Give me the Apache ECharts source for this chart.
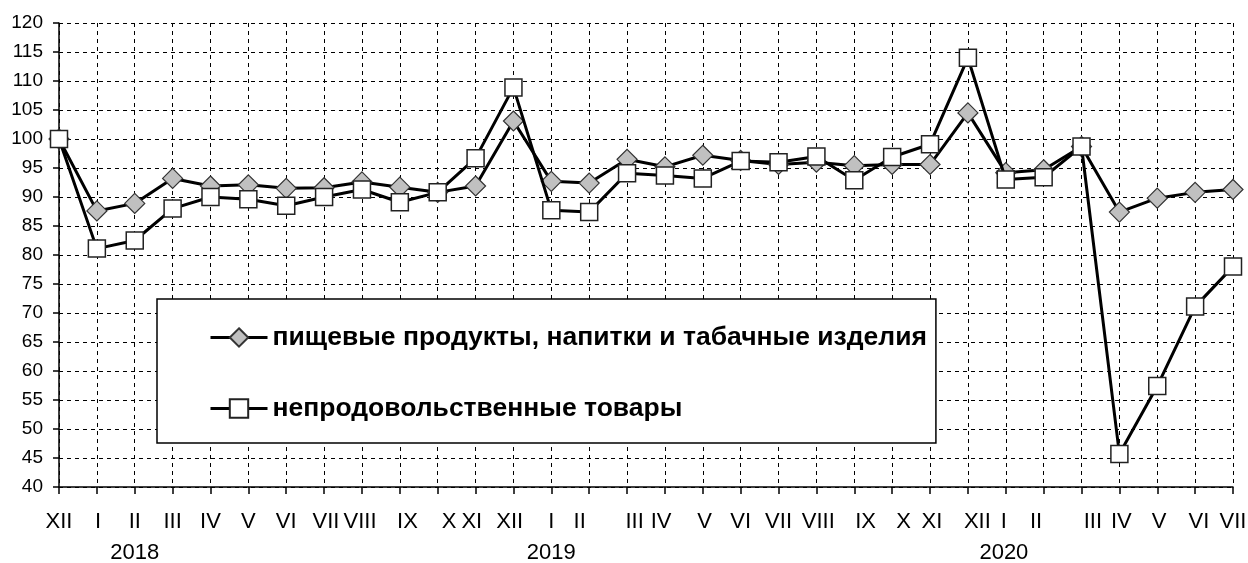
<!DOCTYPE html>
<html>
<head>
<meta charset="utf-8">
<title>Индексы</title>
<script src="https://cdn.jsdelivr.net/npm/echarts@6/dist/echarts.min.js"></script>
<style>
  html, body { margin: 0; padding: 0; background: #fff; }
  #chart { width: 1248px; height: 563px; }
</style>
</head>
<body>
<div id="chart"></div>
<script type="text/javascript">
    // месяцы: XII 2017 ... VII 2020
    var months = ['XII','I','II','III','IV','V','VI','VII','VIII','IX','X','XI',
                  'XII','I','II','III','IV','V','VI','VII','VIII','IX','X','XI',
                  'XII','I','II','III','IV','V','VI','VII'];
    // где стоят подписи месяцев (в долях шага, как на исходнике)
    var labelPos = [0, 1.03, 2, 3, 4, 5, 6, 7.05, 7.95, 9.2, 10.3, 10.9,
                    11.9, 13, 13.75, 15.2, 15.9, 17.05, 18, 19, 20.05, 21.3, 22.3, 23.05,
                    24.25, 24.95, 25.8, 27.3, 28.05, 29.05, 30.1, 31];
    var years = { 2: '2018', 13: '2019', 25: '2020' };

    var foodName = 'пищевые продукты, напитки и табачные изделия';
    var nonFoodName = 'непродовольственные товары';

    var food = [100, 87.6, 88.9, 93.2, 91.9, 92.1, 91.5, 91.6, 92.6, 91.7, 90.8, 91.9,
                103.1, 92.7, 92.4, 96.5, 95.2, 97.2, 96.3, 95.6, 96.0, 95.4, 95.6, 95.6,
                104.5, 94.2, 94.7, 98.7, 87.4, 89.8, 90.8, 91.3];
    var nonFood = [100, 81.1, 82.5, 88.0, 90.0, 89.6, 88.5, 90.0, 91.3, 89.1, 90.8, 96.7,
                   108.9, 87.7, 87.4, 94.1, 93.7, 93.2, 96.2, 96.0, 97.0, 92.9, 96.9, 99.1,
                   114.0, 93.0, 93.4, 98.7, 45.7, 57.4, 71.1, 78.0];

    var yMin = 40, yMax = 120, yStep = 5;

    var font = "'Liberation Sans', Arial, sans-serif";
    var dash = { color: '#000', width: 1, type: [4, 4] };

    var myChart = echarts.init(document.getElementById('chart'), null, { renderer: 'canvas' });

    var option = {
        animation: false,
        backgroundColor: '#fff',
        textStyle: { fontFamily: font, color: '#000' },
        grid: { left: 59, right: 15, top: 23, bottom: 76, containLabel: false, outerBoundsMode: 'none' },
        legend: {
            orient: 'vertical',
            left: 157,
            top: 299,
            padding: [25, 9, 21, 52],
            itemGap: 44,
            itemWidth: 57,
            itemHeight: 23,
            backgroundColor: '#fff',
            borderColor: '#000',
            borderWidth: 1.5,
            selectedMode: false,
            lineStyle: { width: 3, color: '#000' },
            textStyle: { fontFamily: font, fontSize: 26.5, fontWeight: 'bold', color: '#000' },
            data: [foodName, nonFoodName]
        },
        xAxis: [{
            type: 'category',
            data: months,
            boundaryGap: false,
            axisLine: { lineStyle: { color: '#000', width: 1.5 } },
            axisTick: { show: true, interval: 0, length: 7, lineStyle: { color: '#000', width: 1.5 } },
            axisLabel: { show: false },
            splitLine: { show: true, interval: 0, lineStyle: dash }
        }, {
            // второй ряд подписей — ставим их туда же, где они на картинке
            type: 'value',
            position: 'bottom',
            min: 0,
            max: months.length - 1,
            axisLine: { show: false },
            axisTick: { show: false },
            splitLine: { show: false },
            axisLabel: {
                customValues: labelPos,
                margin: 19,
                fontSize: 22,
                lineHeight: 31,
                color: '#000',
                formatter: function (v) {
                    var i = labelPos.indexOf(v);
                    if (i < 0) return '';
                    return years[i] ? months[i] + '\n' + years[i] : months[i];
                }
            }
        }],
        yAxis: {
            type: 'value',
            min: yMin,
            max: yMax,
            interval: yStep,
            axisLine: { show: true, lineStyle: { color: '#000', width: 1.5 } },
            axisTick: { show: true, length: 6, lineStyle: { color: '#000', width: 1.5 } },
            axisLabel: { fontSize: 19, color: '#000', margin: 16 },
            splitLine: { show: true, lineStyle: dash }
        },
        series: [{
            name: foodName,
            type: 'line',
            data: food,
            symbol: 'diamond',
            symbolSize: [20, 20],
            showAllSymbol: true,
            lineStyle: { color: '#000', width: 3 },
            itemStyle: { color: '#c0c0c0', borderColor: '#333', borderWidth: 1.2 },
            emphasis: { disabled: true },
            z: 2
        }, {
            name: nonFoodName,
            type: 'line',
            data: nonFood,
            symbol: 'rect',
            symbolSize: 17,
            showAllSymbol: true,
            lineStyle: { color: '#000', width: 3 },
            itemStyle: { color: '#fff', borderColor: '#222', borderWidth: 1.5 },
            emphasis: { disabled: true },
            z: 3
        }]
    };

    myChart.setOption(option);
</script>
</body>
</html>
